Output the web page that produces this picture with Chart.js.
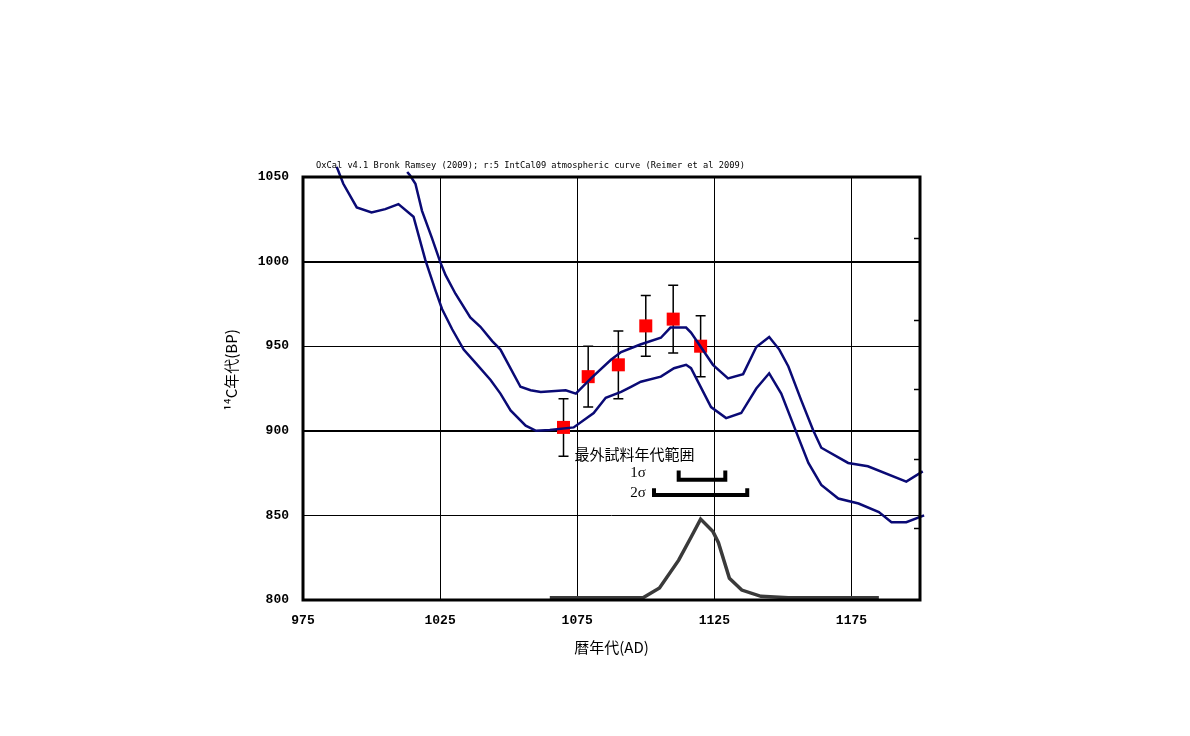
<!DOCTYPE html>
<html>
<head>
<meta charset="utf-8">
<script src="https://cdn.jsdelivr.net/npm/chart.js@4.4.0/dist/chart.umd.min.js"></script>
<style>
  html, body { margin: 0; padding: 0; background: #fff; }
  #wrap { width: 1190px; height: 736px; }
</style>
</head>
<body>
<div id="wrap"><canvas id="chart" width="1190" height="736"></canvas></div>
<script>
// IntCal09 curve, upper and lower edge of the 1 sigma band (AD year / BP)
const upperYears = [1013, 1014, 1016, 1018.4, 1022, 1025, 1027, 1030.6, 1036, 1039.7, 1044, 1047, 1054.3, 1058, 1061.7, 1070.8, 1074.5, 1080, 1087.3, 1091, 1098, 1105.5, 1109, 1114.7, 1116.5, 1124.5, 1130, 1135.5, 1140.3, 1145, 1148.7, 1152, 1156.7, 1161, 1164, 1173.8, 1181, 1195, 1201];
const upperBP = [1053, 1051, 1046, 1030, 1014, 1000, 992, 981, 967, 961.5, 953, 948, 926, 924, 923, 924, 922, 931, 942, 946.5, 951, 955, 961, 961, 958, 939, 931, 933.5, 949.5, 955.5, 948, 938, 918, 900.5, 890, 881, 879, 870, 876];
const lowerYears = [987.3, 989.7, 994.6, 1000, 1005, 1009.8, 1015.3, 1019.6, 1023.3, 1025.7, 1029.4, 1033.6, 1038, 1043.4, 1047, 1050.7, 1056.2, 1060, 1065, 1073.7, 1081, 1085.4, 1091, 1094.6, 1098.2, 1105.5, 1110.3, 1114.7, 1116.5, 1123.8, 1129.3, 1134.8, 1140.3, 1145, 1149.4, 1154.2, 1159.3, 1164, 1170.2, 1177.6, 1185, 1189.6, 1195, 1201.5];
const lowerBP = [1056, 1046, 1032, 1029, 1031, 1034, 1026.5, 1001, 983, 972, 960, 948, 940, 930, 922, 912, 903, 900, 900.5, 902, 910.5, 919.5, 923, 926, 929, 932, 937, 939, 937, 914, 907.5, 910.5, 925, 934, 922, 902, 881, 868, 860, 857, 852, 846, 846, 850];

// calibrated probability of the outermost sample
const probYears = [1065, 1099, 1105, 1112, 1116.5, 1120, 1124.5, 1126.5, 1130.5, 1135, 1142, 1152, 1185];
const probValues = [0, 0, 0.0014, 0.0054, 0.0087, 0.0113, 0.0095, 0.0079, 0.0028, 0.0011, 0.0002, 0, 0];

// measured samples (wiggle matching)
const sampleYears = [1070, 1079, 1090, 1100, 1110, 1120];
const sampleBP = [902, 932, 939, 962, 966, 950];
const sampleErr = [17, 18, 20, 18, 20, 18];

// age range of the outermost sample
const sigma1Range = [1112, 1129];
const sigma2Range = [1103, 1137];

const xTicks = [975, 1025, 1075, 1125, 1175];
const yTicks = [800, 850, 900, 950, 1000, 1050];
const probTicks = [0.01, 0.02, 0.03, 0.04, 0.0517];

const titleText = 'OxCal v4.1 Bronk Ramsey (2009); r:5 IntCal09 atmospheric curve (Reimer et al 2009)';

const toXY = (xs, ys) => xs.map((x, i) => ({ x: x, y: ys[i] }));
const tickFont = { family: "'Liberation Mono', monospace", size: 13, weight: 'bold' };
const jpFont = "'Noto Sans CJK JP', sans-serif";

const extras = {
  id: 'extras',
  beforeDatasetDraw(chart, args) {
    if (args.index !== 3) return;
    const x = chart.scales.x, y = chart.scales.y, ctx = chart.ctx;
    ctx.save();
    ctx.strokeStyle = '#000';
    ctx.lineWidth = 1.5;
    sampleYears.forEach((yr, i) => {
      const px = x.getPixelForValue(yr);
      const top = y.getPixelForValue(sampleBP[i] + sampleErr[i]);
      const bot = y.getPixelForValue(sampleBP[i] - sampleErr[i]);
      ctx.beginPath();
      ctx.moveTo(px, top); ctx.lineTo(px, bot);
      ctx.moveTo(px - 5, top); ctx.lineTo(px + 5, top);
      ctx.moveTo(px - 5, bot); ctx.lineTo(px + 5, bot);
      ctx.stroke();
    });
    ctx.restore();
  },
  afterDatasetsDraw(chart) {
    const ctx = chart.ctx, a = chart.chartArea;
    const x = chart.scales.x, y = chart.scales.y, y2 = chart.scales.y2;
    ctx.save();
    // frame
    ctx.strokeStyle = '#000';
    ctx.lineWidth = 3;
    ctx.strokeRect(a.left, a.top, a.right - a.left, a.bottom - a.top);
    // small inner ticks of the probability axis
    ctx.lineWidth = 1.5;
    probTicks.forEach(v => {
      const py = Math.round(y2.getPixelForValue(v)) + 0.5;
      ctx.beginPath();
      ctx.moveTo(a.right - 6, py); ctx.lineTo(a.right, py);
      ctx.stroke();
    });
    // sigma brackets
    ctx.lineWidth = 4;
    const bracket = (r, topBP, botBP) => {
      const x1 = x.getPixelForValue(r[0]), x2 = x.getPixelForValue(r[1]);
      const t = y.getPixelForValue(topBP), b = y.getPixelForValue(botBP);
      ctx.beginPath();
      ctx.moveTo(x1, t); ctx.lineTo(x1, b); ctx.lineTo(x2, b); ctx.lineTo(x2, t);
      ctx.stroke();
    };
    bracket(sigma1Range, 876.5, 871);
    bracket(sigma2Range, 866, 862);
    // texts
    ctx.fillStyle = '#000';
    ctx.textBaseline = 'middle';
    ctx.textAlign = 'left';
    ctx.font = '15px ' + jpFont;
    ctx.fillText('最外試料年代範囲', x.getPixelForValue(1074), y.getPixelForValue(886));
    ctx.textAlign = 'right';
    ctx.font = "15px 'Liberation Serif', serif";
    ctx.fillText('1σ', x.getPixelForValue(1100), y.getPixelForValue(875));
    ctx.fillText('2σ', x.getPixelForValue(1100), y.getPixelForValue(863));
    // header line
    ctx.textAlign = 'left';
    ctx.font = "8.7px 'DejaVu Sans Mono', monospace";
    ctx.fillText(titleText, a.left + 13, a.top - 11);
    // y axis title
    ctx.translate(231, 370);
    ctx.rotate(-Math.PI / 2);
    ctx.textAlign = 'center';
    ctx.font = '15px ' + jpFont;
    ctx.fillText('¹⁴C年代(BP)', 0, 0);
    ctx.restore();
  }
};

new Chart(document.getElementById('chart'), {
  type: 'scatter',
  data: {
    datasets: [
      {
        label: 'upper',
        data: toXY(upperYears, upperBP),
        showLine: true,
        borderColor: '#0a0a75',
        borderWidth: 2.5,
        pointRadius: 0,
        clip: false
      },
      {
        label: 'lower',
        data: toXY(lowerYears, lowerBP),
        showLine: true,
        borderColor: '#0a0a75',
        borderWidth: 2.5,
        pointRadius: 0,
        clip: false
      },
      {
        label: 'probability',
        data: toXY(probYears, probValues),
        yAxisID: 'y2',
        showLine: true,
        borderColor: '#3a3a3a',
        borderWidth: 3.5,
        pointRadius: 0,
        clip: false
      },
      {
        label: 'samples',
        data: toXY(sampleYears, sampleBP),
        pointStyle: 'rect',
        pointRadius: 9.2,
        pointHoverRadius: 9.2,
        backgroundColor: '#ff0000',
        borderColor: '#ff0000',
        borderWidth: 0
      }
    ]
  },
  options: {
    responsive: false,
    animation: false,
    events: [],
    layout: { padding: { top: 177, right: 270, left: 0, bottom: 0 } },
    plugins: {
      legend: { display: false },
      tooltip: { enabled: false }
    },
    scales: {
      x: {
        type: 'linear',
        min: 975,
        max: 1200,
        afterBuildTicks: s => { s.ticks = xTicks.map(v => ({ value: v })); },
        afterFit: s => { s.height = 136; },
        grid: { color: '#000', lineWidth: 1, drawTicks: false },
        border: { display: false },
        ticks: { color: '#000', font: tickFont, padding: 13, maxRotation: 0, callback: v => String(v) },
        title: {
          display: true,
          text: '暦年代(AD)',
          color: '#000',
          font: { family: jpFont, size: 15 },
          padding: { top: 0, bottom: 80 }
        }
      },
      y: {
        type: 'linear',
        min: 800,
        max: 1050,
        afterBuildTicks: s => { s.ticks = yTicks.map(v => ({ value: v })); },
        afterFit: s => { s.width = 303; },
        grid: {
          color: '#000',
          lineWidth: c => (c.tick && c.tick.value % 100 === 0 ? 2 : 1),
          drawTicks: false
        },
        border: { display: false },
        ticks: { color: '#000', font: tickFont, padding: 14, callback: v => String(v) }
      },
      y2: {
        type: 'linear',
        position: 'right',
        min: -0.00033,
        max: 0.0605,
        display: false
      }
    }
  },
  plugins: [extras]
});
</script>
</body>
</html>
